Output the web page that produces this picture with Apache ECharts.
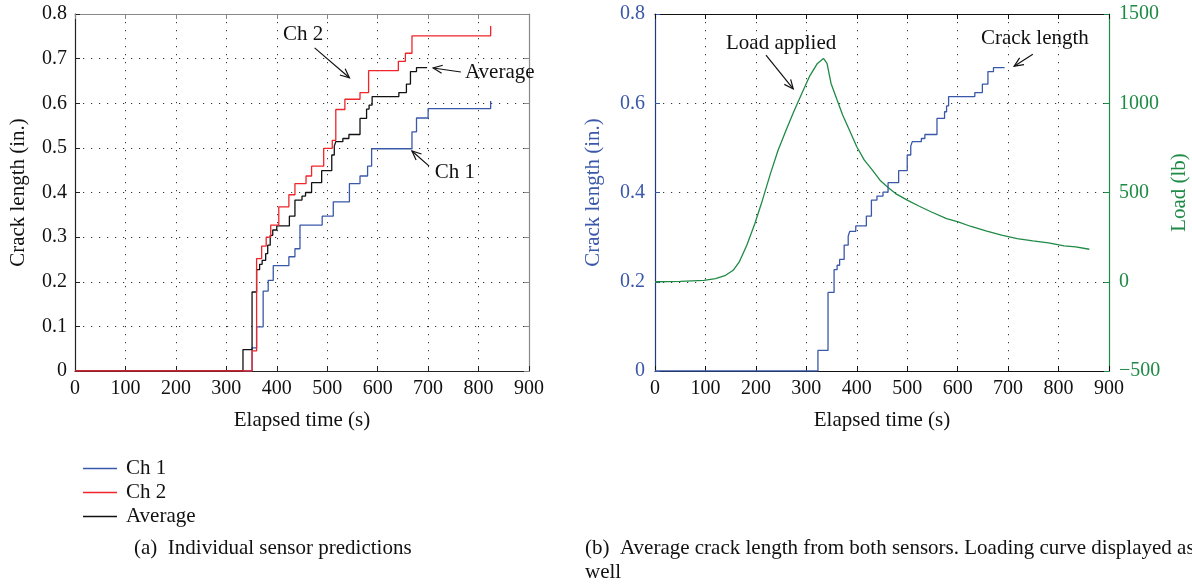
<!DOCTYPE html>
<html><head><meta charset="utf-8">
<script src="https://cdn.jsdelivr.net/npm/echarts@6/dist/echarts.min.js"></script>
<style>html,body{margin:0;padding:0;background:#fff}#c{width:1192px;height:585px}</style>
</head><body><div id="c"></div>
<script>
// ---- data (time s, crack length in.) ----
const ch1 = [[0,0],[351,0.052],[360,0.099],[373,0.179],[383,0.203],[393,0.236],[424,0.256],[436,0.274],[446,0.327],[490,0.347],[512,0.379],[544,0.420],[565,0.437],[580,0.459],[588,0.498],[668,0.536],[677,0.567],[700,0.588],[824,0.605]];
const ch2 = [[0,0],[351,0.045],[360,0.252],[370,0.280],[379,0.300],[388,0.327],[404,0.368],[424,0.395],[436,0.420],[458,0.437],[469,0.459],[493,0.499],[510,0.517],[517,0.586],[535,0.609],[565,0.624],[582,0.673],[641,0.694],[655,0.712],[668,0.751],[824,0.773]];
const average = [[0,0],[333,0.048],[351,0.177],[360,0.227],[366,0.239],[371,0.248],[378,0.263],[382,0.282],[387,0.304],[392,0.316],[400,0.325],[425,0.347],[436,0.383],[450,0.392],[457,0.400],[469,0.422],[489,0.449],[509,0.484],[514,0.504],[517,0.514],[531,0.521],[543,0.530],[565,0.566],[578,0.587],[583,0.596],[589,0.615],[642,0.624],[657,0.643],[665,0.671],[677,0.680],[698,0.680]];
const crackLength = [[0,0],[323,0.046],[343,0.176],[355,0.227],[361,0.237],[366,0.250],[375,0.282],[383,0.302],[386,0.313],[398,0.325],[419,0.347],[429,0.383],[440,0.392],[452,0.401],[462,0.422],[483,0.449],[500,0.484],[507,0.504],[510,0.514],[528,0.521],[535,0.530],[559,0.566],[574,0.581],[578,0.594],[582,0.615],[634,0.624],[649,0.643],[660,0.671],[671,0.680],[693,0.680]];
const load = [[0,0],[50,2],[52,5],[97,8],[120,18],[140,36],[155,64],[167,111],[182,205],[198,326],[213,457],[229,607],[244,737],[260,850],[275,952],[291,1055],[306,1149],[322,1223],[334,1251],[341,1223],[349,1111],[361,1018],[372,934],[384,859],[400,756],[415,681],[431,625],[446,569],[462,528],[477,494],[500,457],[524,423],[547,392],[578,354],[601,336],[625,311],[656,285],[687,261],[718,242],[749,229],[780,218],[811,201],[834,195],[861,182]];
const legendNames = ['Ch 1','Ch 2','Average'];
const captionA = '(a)  Individual sensor predictions';
const captionB1 = '(b)  Average crack length from both sensors. Loading curve displayed as';
const captionB2 = 'well';

const FONT = "'Liberation Serif','Times New Roman',serif";
const FS = 21, FT = 20;
const BLUE = '#3a58aa', RED = '#f0242a', BLACK = '#111', GREEN = '#1f8a45', NAVY = '#233a80';
const dotted = {show:true, lineStyle:{color:'#333', width:1, type:[1.2,6.8]}};

function xMain(grid, lineColor){
  return {type:'value', gridIndex:grid, min:0, max:900, interval:100, position:'bottom',
    name:'Elapsed time (s)', nameLocation:'middle', nameGap:39,
    nameTextStyle:{fontFamily:FONT, fontSize:FS, color:'#111'},
    axisLine:{show:true, onZero:false, lineStyle:{color:lineColor, width:1.2}},
    axisTick:{show:true, inside:true, length:5, lineStyle:{color:lineColor}},
    axisLabel:{fontFamily:FONT, fontSize:FT, color:'#111', margin:8},
    splitLine:dotted};
}
function xTop(grid, lineColor){
  return {type:'value', gridIndex:grid, min:0, max:900, interval:100, position:'top',
    axisLine:{show:true, onZero:false, lineStyle:{color:lineColor, width:1.2}},
    axisTick:{show:true, inside:true, length:5, lineStyle:{color:lineColor}},
    axisLabel:{show:false}, splitLine:{show:false}};
}
const option = {
  animation:false,
  backgroundColor:'#fff',
  grid:[{left:75, top:14, width:454, height:357},{left:655, top:14, width:454, height:357}],
  xAxis:[xMain(0,'#222'), xTop(0,'#888'), xMain(1,'#111'), xTop(1,'#111')],
  yAxis:[
    {type:'value', gridIndex:0, min:0, max:0.8, interval:0.1, position:'left',
      name:'Crack length (in.)', nameLocation:'middle', nameGap:46,
      nameTextStyle:{fontFamily:FONT, fontSize:FS, color:'#111'},
      axisLine:{show:true, onZero:false, lineStyle:{color:'#222', width:1.2}},
      axisTick:{show:true, inside:true, length:5, lineStyle:{color:'#222'}},
      axisLabel:{fontFamily:FONT, fontSize:FT, color:'#111', margin:8, formatter:v=>String(+v.toFixed(1))},
      splitLine:dotted},
    {type:'value', gridIndex:0, min:0, max:0.8, interval:0.1, position:'right',
      axisLine:{show:true, onZero:false, lineStyle:{color:'#888', width:1.2}},
      axisTick:{show:true, inside:true, length:5, lineStyle:{color:'#888'}},
      axisLabel:{show:false}, splitLine:{show:false}},
    {type:'value', gridIndex:1, min:0, max:0.8, interval:0.2, position:'left',
      name:'Crack length (in.)', nameLocation:'middle', nameGap:51,
      nameTextStyle:{fontFamily:FONT, fontSize:FS, color:BLUE},
      axisLine:{show:true, onZero:false, lineStyle:{color:NAVY, width:1.2}},
      axisTick:{show:true, inside:true, length:5, lineStyle:{color:BLUE}},
      axisLabel:{fontFamily:FONT, fontSize:FT, color:BLUE, margin:10, formatter:v=>String(+v.toFixed(1))},
      splitLine:dotted},
    {type:'value', gridIndex:1, min:-500, max:1500, interval:500, position:'right',
      name:'Load (lb)', nameLocation:'middle', nameGap:60, nameRotate:90,
      nameTextStyle:{fontFamily:FONT, fontSize:FS, color:GREEN},
      axisLine:{show:true, onZero:false, lineStyle:{color:GREEN, width:1.2}},
      axisTick:{show:true, inside:true, length:5, lineStyle:{color:GREEN}},
      axisLabel:{fontFamily:FONT, fontSize:FT, color:GREEN, margin:10, formatter:v=>v<0?'\u2212'+(-v):String(v)},
      splitLine:{show:false}}
  ],
  legend:{data:legendNames, orient:'vertical', left:78, top:453, itemWidth:34, itemHeight:1.6, itemGap:3,
    icon:'rect', textStyle:{fontFamily:FONT, fontSize:FS, color:'#111', padding:[0,0,0,4]}},
  series:[
    {name:'Ch 1', type:'line', xAxisIndex:0, yAxisIndex:0, step:'end', data:ch1, showSymbol:false, symbol:'none', color:BLUE, lineStyle:{width:1.3}, z:3},
    {name:'Average', type:'line', xAxisIndex:0, yAxisIndex:0, step:'end', data:average, showSymbol:false, symbol:'none', color:BLACK, lineStyle:{width:1.3}, z:4},
    {name:'Ch 2', type:'line', xAxisIndex:0, yAxisIndex:0, step:'end', data:ch2, showSymbol:false, symbol:'none', color:RED, lineStyle:{width:1.3}, z:5},
    {name:'Crack length', type:'line', xAxisIndex:2, yAxisIndex:2, step:'end', data:crackLength, showSymbol:false, symbol:'none', color:BLUE, lineStyle:{width:1.3}, z:4},
    {name:'Load', type:'line', xAxisIndex:2, yAxisIndex:3, data:load, showSymbol:false, symbol:'none', color:GREEN, lineStyle:{width:1.3}, z:3}
  ]
};
const chart = echarts.init(document.getElementById('c'), null, {renderer:'canvas'});
chart.setOption(option);

// annotations in data coordinates
const notes = [
  {grid:0, text:'Ch 2', at:[452,0.755], from:[475,0.724], to:[544,0.657]},
  {grid:0, text:'Average', at:[842,0.668], from:[765,0.670], to:[710,0.679]},
  {grid:0, text:'Ch 1', at:[753,0.444], from:[702,0.459], to:[668,0.493]},
  {grid:1, text:'Load applied', at:[250,0.735], from:[220,0.708], to:[274,0.632]},
  {grid:1, text:'Crack length', at:[753,0.746], from:[749,0.710], to:[712,0.683]}
];
const g = [];
notes.forEach(n=>{
  const P = p=>chart.convertToPixel({gridIndex:n.grid}, p);
  const t = P(n.at), a = P(n.from), b = P(n.to);
  g.push({type:'text', x:t[0], y:t[1], style:{text:n.text, font:FS+'px '+FONT, fill:'#111', align:'center', verticalAlign:'middle'}, z:10});
  g.push({type:'line', shape:{x1:a[0],y1:a[1],x2:b[0],y2:b[1]}, style:{stroke:'#111', lineWidth:1.2}, z:10});
  const ang = Math.atan2(a[1]-b[1], a[0]-b[0]), L = 10, w = 0.42;
  g.push({type:'polyline', shape:{points:[[b[0]+L*Math.cos(ang+w), b[1]+L*Math.sin(ang+w)],[b[0],b[1]],[b[0]+L*Math.cos(ang-w), b[1]+L*Math.sin(ang-w)]]}, style:{stroke:'#111', fill:null, lineWidth:1.2}, z:10});
});
g.push({type:'text', x:134, y:548, style:{text:captionA, font:FS+'px '+FONT, fill:'#111', verticalAlign:'middle'}});
g.push({type:'text', x:585, y:548, style:{text:captionB1, font:FS+'px '+FONT, fill:'#111', verticalAlign:'middle'}});
g.push({type:'text', x:585, y:572, style:{text:captionB2, font:FS+'px '+FONT, fill:'#111', verticalAlign:'middle'}});
chart.setOption({graphic:g});
</script></body></html>
